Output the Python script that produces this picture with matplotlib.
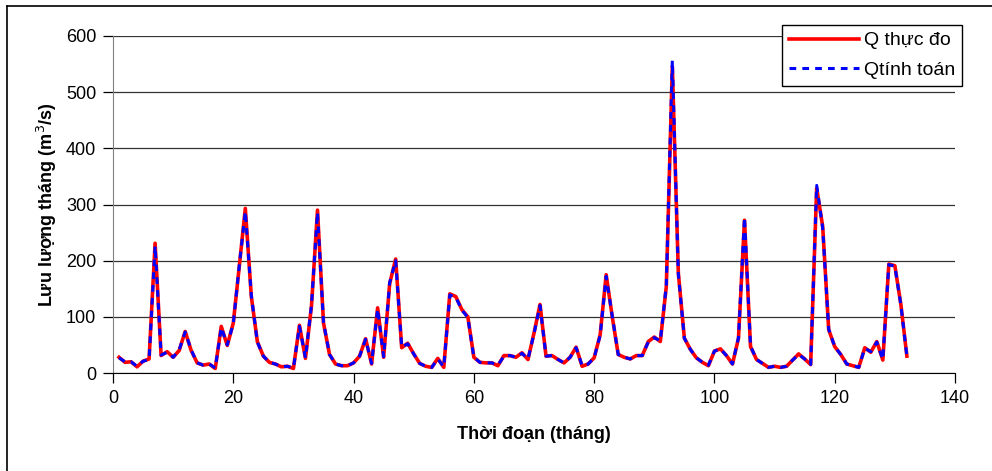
import numpy as np
import matplotlib.pyplot as plt
from matplotlib.lines import Line2D

plt.rcParams['font.family'] = ['Liberation Sans', 'DejaVu Sans']

# monthly discharge, months 1..132
months = np.arange(1, 133)
q_obs = [28, 19, 20, 11, 21, 25, 231, 31, 38, 28,
         40, 74, 40, 18, 14, 16, 8, 83, 49, 89,
         190, 293, 136, 56, 30, 19, 16, 11, 12, 8,
         85, 26, 119, 290, 89, 33, 16, 13, 13, 18,
         30, 61, 16, 116, 28, 159, 203, 45, 53, 34,
         17, 12, 10, 26, 10, 141, 136, 113, 100, 28,
         19, 18, 18, 13, 31, 31, 28, 36, 24, 71,
         122, 30, 31, 24, 18, 28, 46, 12, 16, 27,
         68, 175, 101, 33, 28, 25, 31, 31, 56, 64,
         56, 154, 546, 178, 62, 42, 27, 19, 13, 39,
         43, 31, 16, 62, 272, 47, 24, 17, 10, 12,
         10, 12, 23, 34, 25, 15, 329, 261, 77, 47,
         33, 16, 13, 10, 45, 37, 56, 23, 194, 191,
         122, 30]
q_sim = [27, 20, 20, 12, 21, 24, 226, 32, 37, 28,
         41, 73, 41, 18, 14, 16, 9, 81, 50, 88,
         192, 288, 138, 55, 30, 19, 16, 11, 12, 9,
         83, 27, 121, 286, 90, 33, 16, 13, 13, 18,
         30, 60, 17, 114, 29, 161, 200, 46, 52, 34,
         17, 12, 10, 25, 11, 139, 135, 112, 99, 28,
         19, 18, 18, 14, 30, 31, 28, 35, 25, 70,
         120, 30, 31, 24, 18, 28, 45, 13, 16, 27,
         67, 172, 102, 33, 28, 25, 31, 31, 55, 63,
         57, 156, 556, 176, 62, 42, 27, 19, 14, 39,
         43, 31, 16, 63, 277, 48, 24, 17, 10, 12,
         10, 12, 23, 33, 25, 15, 334, 258, 78, 47,
         33, 16, 13, 10, 44, 38, 55, 24, 193, 190,
         121, 30]

fig = plt.figure(figsize=(9.92, 4.71), dpi=100)
ax = fig.add_axes([113/992, 1 - 373/471, 842/992, 337/471])

ax.plot(months, q_obs, color='red', lw=2.6, label='Q thực đo', zorder=3)
ax.plot(months, q_sim, color='blue', lw=2.2, dashes=(2.2, 2.0), label='Qtính toán', zorder=4)

ax.set_xlim(0, 140)
ax.set_ylim(0, 600)
ax.set_xticks(range(0, 141, 20))
ax.set_yticks(range(0, 601, 100))
ax.grid(axis='y', color='#333333', lw=0.9)
ax.set_axisbelow(True)
for s in ['top', 'right']:
    ax.spines[s].set_visible(False)
ax.spines['left'].set_color('#808080')
ax.spines['bottom'].set_color('black')
ax.tick_params(direction='out', length=7, width=0.9, labelsize=13, pad=5)

ax.set_xlabel('Thời đoạn (tháng)', fontsize=13, fontweight='bold', labelpad=14)
ax.set_ylabel('Lưu lượng tháng (m$^3$/s)', fontsize=13, fontweight='bold', labelpad=5)

leg = ax.legend(loc='upper right', bbox_to_anchor=(962/992, 1 - 25/471),
                bbox_transform=fig.transFigure, fontsize=14, frameon=True,
                fancybox=False, edgecolor='black', framealpha=1,
                handlelength=3.6, borderpad=0.35, labelspacing=0.6,
                handletextpad=0.25, borderaxespad=0)
leg.get_frame().set_linewidth(1.0)

# outer frame (only top and left visible)
fig.add_artist(Line2D([7/992, 7/992], [0, 1 - 6/471], color='black', lw=1.2, transform=fig.transFigure))
fig.add_artist(Line2D([7/992, 1], [1 - 6/471, 1 - 6/471], color='black', lw=1.2, transform=fig.transFigure))

fig.savefig('out.png', dpi=100)
